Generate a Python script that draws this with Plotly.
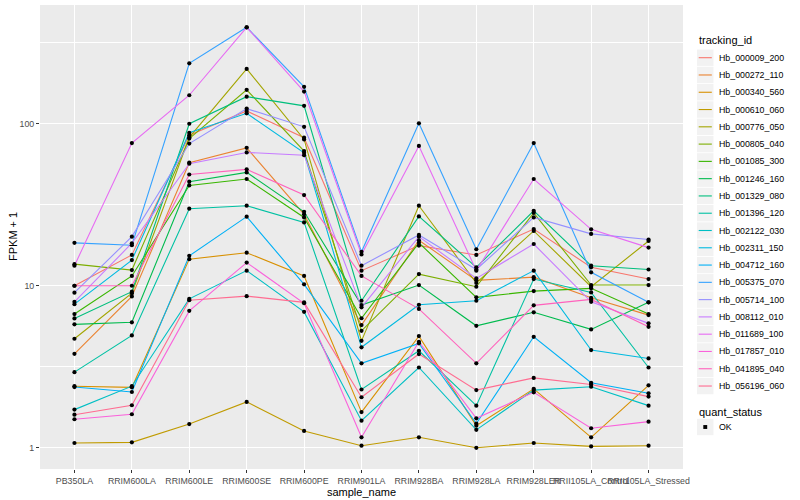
import plotly.graph_objects as go

samples = ["PB350LA", "RRIM600LA", "RRIM600LE", "RRIM600SE", "RRIM600PE", "RRIM901LA",
           "RRIM928BA", "RRIM928LA", "RRIM928LER", "RRII105LA_Control", "RRII105LA_Stressed"]

tracking_ids = ["Hb_000009_200", "Hb_000272_110", "Hb_000340_560", "Hb_000610_060",
                "Hb_000776_050", "Hb_000805_040", "Hb_001085_300", "Hb_001246_160",
                "Hb_001329_080", "Hb_001396_120", "Hb_002122_030", "Hb_002311_150",
                "Hb_004712_160", "Hb_005375_070", "Hb_005714_100", "Hb_008112_010",
                "Hb_011689_100", "Hb_017857_010", "Hb_041895_040", "Hb_056196_060"]

colors = ["#F8766D", "#EA8331", "#D89000", "#C09B00", "#A3A500", "#7CAE00", "#39B600",
          "#00BB4E", "#00BF7D", "#00C1A3", "#00BFC4", "#00BAE0", "#00B0F6", "#35A2FF",
          "#9590FF", "#C77CFF", "#E76BF3", "#FA62DB", "#FF62BC", "#FF6C91"]

# FPKM + 1 per sample (order of `samples`)
Hb_000009_200 = [10.0, 15.5, 85, 120, 82, 12.4, 17.7, 15.5, 22.4, 13.0, 11.0]
Hb_000272_110 = [3.80, 8.6, 57.5, 71, 27.6, 5.72, 19.1, 10.8, 11.3, 8.43, 6.59]
Hb_000340_560 = [2.40, 2.36, 14.6, 16.0, 11.5, 1.66, 4.89, 1.37, 2.31, 1.16, 2.43]
Hb_000610_060 = [1.07, 1.08, 1.40, 1.92, 1.27, 1.03, 1.16, 1.00, 1.07, 1.02, 1.03]
Hb_000776_050 = [4.71, 9.0, 82.5, 218, 80, 4.57, 31.2, 10.4, 21.8, 9.86, 18.9]
Hb_000805_040 = [13.6, 12.5, 81, 162, 67.8, 5.27, 11.8, 9.86, 28.2, 10.1, 10.1]
Hb_001085_300 = [6.69, 11.5, 41.6, 45.6, 26.4, 6.3, 18.4, 8.48, 9.27, 9.64, 6.69]
Hb_001246_160 = [5.78, 5.95, 43.9, 50.1, 28.6, 7.6, 10.1, 5.66, 6.86, 5.38, 7.9]
Hb_001329_080 = [6.29, 9.2, 100, 147, 129, 8.08, 26.8, 13.0, 29.0, 13.3, 12.6]
Hb_001396_120 = [2.93, 4.94, 29.9, 31.2, 24.6, 2.29, 3.97, 1.82, 11.0, 9.1, 3.13]
Hb_002122_030 = [1.72, 2.40, 8.3, 12.4, 6.9, 1.47, 3.13, 1.29, 2.27, 2.38, 1.82]
Hb_002311_150 = [7.7, 14.4, 88, 116, 66.2, 4.17, 7.63, 8.08, 12.4, 4.01, 3.56]
Hb_004712_160 = [2.37, 2.21, 15.3, 26.7, 10.2, 3.32, 4.41, 1.41, 4.84, 2.52, 2.17]
Hb_005375_070 = [18.4, 17.8, 236, 394, 169, 16.2, 100.6, 16.8, 76, 12.1, 7.9]
Hb_005714_100 = [9.06, 20.1, 75.5, 124, 95.7, 13.3, 20.6, 12.6, 26.4, 20.9, 19.3]
Hb_008112_010 = [7.96, 18.3, 56.7, 66.5, 64, 7.36, 20.1, 11.1, 18.1, 7.96, 5.86]
Hb_011689_100 = [13.3, 76, 150, 394, 158, 15.6, 73, 12.4, 45.6, 22.3, 17.2]
Hb_017857_010 = [1.50, 1.61, 7.0, 13.9, 7.8, 1.16, 4.51, 1.52, 2.20, 1.32, 1.45]
Hb_041895_040 = [10.0, 10.0, 48.6, 52.3, 36.3, 11.5, 7.2, 3.32, 7.57, 8.24, 5.58]
Hb_056196_060 = [1.60, 1.83, 8.15, 8.63, 7.9, 2.05, 3.79, 2.27, 2.70, 2.46, 2.07]

series = [Hb_000009_200, Hb_000272_110, Hb_000340_560, Hb_000610_060, Hb_000776_050,
          Hb_000805_040, Hb_001085_300, Hb_001246_160, Hb_001329_080, Hb_001396_120,
          Hb_002122_030, Hb_002311_150, Hb_004712_160, Hb_005375_070, Hb_005714_100,
          Hb_008112_010, Hb_011689_100, Hb_017857_010, Hb_041895_040, Hb_056196_060]

quant_status = ["OK"]

W, H = 800, 500
L, R, T, B = 40, 117, 5, 31
PW, PH = W - L - R, H - T - B

def px(x):
    return (x - L) / PW

def py(y):
    return (H - B - y) / PH

FONT = "Liberation Sans, Arial, Helvetica, sans-serif"

fig = go.Figure()
for name, col, vals in zip(tracking_ids, colors, series):
    fig.add_trace(go.Scatter(x=samples, y=vals, mode="lines", name=name,
                             line=dict(color=col, width=1.1), showlegend=False,
                             hoverinfo="skip"))

all_x, all_y = [], []
for vals in series:
    all_x += samples
    all_y += vals
fig.add_trace(go.Scatter(x=all_x, y=all_y, mode="markers", name=quant_status[0],
                         marker=dict(color="black", size=4.2, symbol="circle"),
                         showlegend=False))

shapes, annos = [], []
# y axis title
annos.append(dict(x=px(13), y=0.5, xref="paper", yref="paper", text="FPKM + 1",
                  showarrow=False, textangle=-90, xanchor="center", yanchor="middle",
                  font=dict(size=11, color="black", family=FONT)))
# legend: tracking_id
annos.append(dict(x=px(697), y=py(40.5), xref="paper", yref="paper", text="tracking_id",
                  showarrow=False, xanchor="left", yanchor="middle",
                  font=dict(size=11, color="black", family=FONT)))
step = 17.28
y0 = 57.7
for i, (name, col) in enumerate(zip(tracking_ids, colors)):
    yc = y0 + i * step
    shapes.append(dict(type="rect", xref="paper", yref="paper",
                       x0=px(697), x1=px(713.5), y0=py(yc - 8.2), y1=py(yc + 8.2),
                       fillcolor="#F2F2F2", line=dict(width=0), layer="above"))
    shapes.append(dict(type="line", xref="paper", yref="paper",
                       x0=px(698.7), x1=px(711.8), y0=py(yc), y1=py(yc),
                       line=dict(color=col, width=1.1), layer="above"))
    annos.append(dict(x=px(717), y=py(yc), xref="paper", yref="paper", text=name,
                      showarrow=False, xanchor="left", yanchor="middle",
                      font=dict(size=8.8, color="black", family=FONT)))
# legend: quant_status
annos.append(dict(x=px(697), y=py(411.5), xref="paper", yref="paper", text="quant_status",
                  showarrow=False, xanchor="left", yanchor="middle",
                  font=dict(size=11, color="black", family=FONT)))
yc = 427
shapes.append(dict(type="rect", xref="paper", yref="paper",
                   x0=px(697), x1=px(713.5), y0=py(yc - 8.2), y1=py(yc + 8.2),
                   fillcolor="#F2F2F2", line=dict(width=0), layer="above"))
shapes.append(dict(type="rect", xref="paper", yref="paper",
                   x0=px(703.3), x1=px(707.2), y0=py(yc - 1.95), y1=py(yc + 1.95),
                   fillcolor="black", line=dict(width=0), layer="above"))
annos.append(dict(x=px(717), y=py(yc), xref="paper", yref="paper", text=quant_status[0],
                  showarrow=False, xanchor="left", yanchor="middle",
                  font=dict(size=8.8, color="black", family=FONT)))

fig.update_layout(
    width=W, height=H,
    margin=dict(l=L, r=R, t=T, b=B, autoexpand=False),
    paper_bgcolor="white", plot_bgcolor="#EBEBEB",
    font=dict(family=FONT, size=8.8, color="#4D4D4D"),
    shapes=shapes, annotations=annos,
    showlegend=False,
    xaxis=dict(
        type="category", categoryorder="array", categoryarray=samples,
        range=[-0.6, len(samples) - 0.4],
        showgrid=True, gridcolor="white", gridwidth=1.1, zeroline=False,
        ticks="outside", ticklen=3, tickwidth=1, tickcolor="#333333",
        tickangle=0, tickfont=dict(size=8.8, color="#4D4D4D", family=FONT),
        title=dict(text="sample_name", font=dict(size=11, color="black", family=FONT),
                   standoff=3),
        automargin=False, showline=False,
    ),
    yaxis=dict(
        type="log", range=[-0.131, 2.733],
        tickvals=[1, 10, 100], ticktext=["1", "10", "100"],
        showgrid=True, gridcolor="white", gridwidth=1.1, zeroline=False,
        minor=dict(tickvals=[10 ** 0.5, 10 ** 1.5, 10 ** 2.5], showgrid=True,
                   gridcolor="white", gridwidth=0.55, ticks=""),
        ticks="outside", ticklen=3, tickwidth=1, tickcolor="#333333",
        tickfont=dict(size=8.8, color="#4D4D4D", family=FONT),
        automargin=False, showline=False,
    ),
)

fig.write_html("out.html",
               config={"displayModeBar": False},
               post_script="document.body.style.margin='0px';"
                           "document.body.style.padding='0px';")
